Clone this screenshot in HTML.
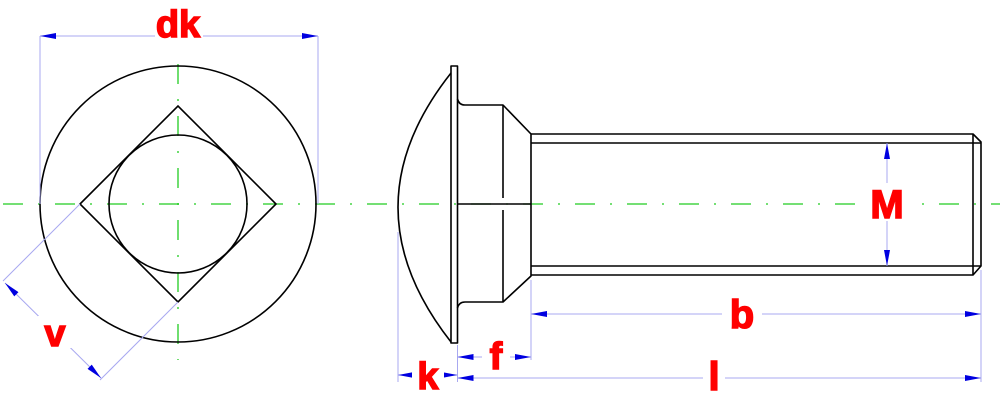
<!DOCTYPE html>
<html><head><meta charset="utf-8"><style>html,body{margin:0;padding:0;background:#fff}svg{display:block}</style></head>
<body>
<svg width="1000" height="401" viewBox="0 0 1000 401" xmlns="http://www.w3.org/2000/svg">
<defs>
<marker id="a" viewBox="0 0 16 6" refX="16" refY="3" markerWidth="16" markerHeight="6" markerUnits="userSpaceOnUse" orient="auto-start-reverse"><path d="M0,0 L16,3 L0,6 Z" fill="#0000e0"/></marker>
</defs>
<g stroke="#22cc22" stroke-width="1.3" fill="none" stroke-dasharray="20 15 2 15">
<line x1="3" y1="204" x2="1000" y2="204"/>
<line x1="178" y1="64" x2="178" y2="360"/>
</g>
<g stroke="#000" stroke-width="1.6" fill="none">
<circle cx="178" cy="204" r="138"/>
<circle cx="178" cy="204" r="69"/>
<path d="M80,204 L178,106 L276,204 L178,302 Z"/>
</g>
<g stroke="#000" stroke-width="1.6" fill="none" stroke-linejoin="round">
<path d="M451,73 Q345,207 451,342"/>
<rect x="451" y="66" width="6.5" height="277"/>
<path d="M457.5,99 Q459,105 465,105 L503,105 L531,134 L531,276 L503,302 L465,302 Q459,302 457.5,308"/>
<line x1="503" y1="105" x2="503" y2="198"/>
<line x1="503" y1="210" x2="503" y2="302"/>
<line x1="457.5" y1="204" x2="531" y2="204"/>
<path d="M531,134 L973,134 L981,142 L981,266 L973,275 L531,275"/>
<line x1="531" y1="143" x2="981" y2="143"/>
<line x1="531" y1="266" x2="981" y2="266"/>
<line x1="973" y1="134" x2="973" y2="275"/>
</g>
<g stroke="#a8a8f0" stroke-width="1" fill="none">
<line x1="40" y1="36" x2="40" y2="204"/>
<line x1="318" y1="36" x2="318" y2="204"/>
<line x1="80" y1="204" x2="3" y2="281"/>
<line x1="178" y1="302" x2="100" y2="380"/>
<line x1="398" y1="232" x2="398" y2="382"/>
<line x1="457.5" y1="345" x2="457.5" y2="382"/>
<line x1="531" y1="280" x2="531" y2="360"/>
<line x1="981" y1="270" x2="981" y2="382"/>
</g>
<g stroke="#a8a8f0" stroke-width="1" fill="none" marker-start="url(#a)" marker-end="url(#a)">
<line x1="40" y1="36" x2="318" y2="36"/>
<line x1="5" y1="283" x2="101" y2="378"/>
<line x1="887" y1="143" x2="887" y2="266"/>
<line x1="531" y1="314" x2="981" y2="314"/>
<line x1="457.5" y1="357" x2="531" y2="357"/>
<line x1="457.5" y1="378" x2="981" y2="378"/>
<line x1="398" y1="375" x2="457.5" y2="375"/>
</g>
<g font-family="Liberation Sans, Arial, sans-serif" font-weight="bold" fill="#ff0000" stroke="#ff0000" stroke-width="1.5" text-anchor="middle">
<rect x="155" y="16" width="48" height="34" fill="#fff" stroke="none"/>
<text x="178" y="37" font-size="38">dk</text>
<rect x="38" y="316" width="34" height="32" fill="#fff" stroke="none"/>
<text x="55" y="346" font-size="38">v</text>
<rect x="865" y="183" width="46" height="38" fill="#fff" stroke="none"/>
<text x="887" y="218" font-size="40">M</text>
<rect x="722" y="294" width="40" height="38" fill="#fff" stroke="none"/>
<text x="742" y="328" font-size="40">b</text>
<rect x="703" y="358" width="22" height="42" fill="#fff" stroke="none"/>
<text x="714" y="390" font-size="40">l</text>
<rect x="412" y="358" width="32" height="42" fill="#fff" stroke="none"/>
<text x="428" y="389" font-size="38">k</text>
<rect x="482" y="338" width="28" height="36" fill="#fff" stroke="none"/>
<text x="496" y="369" font-size="38">f</text>
</g>
</svg>
</body></html>
